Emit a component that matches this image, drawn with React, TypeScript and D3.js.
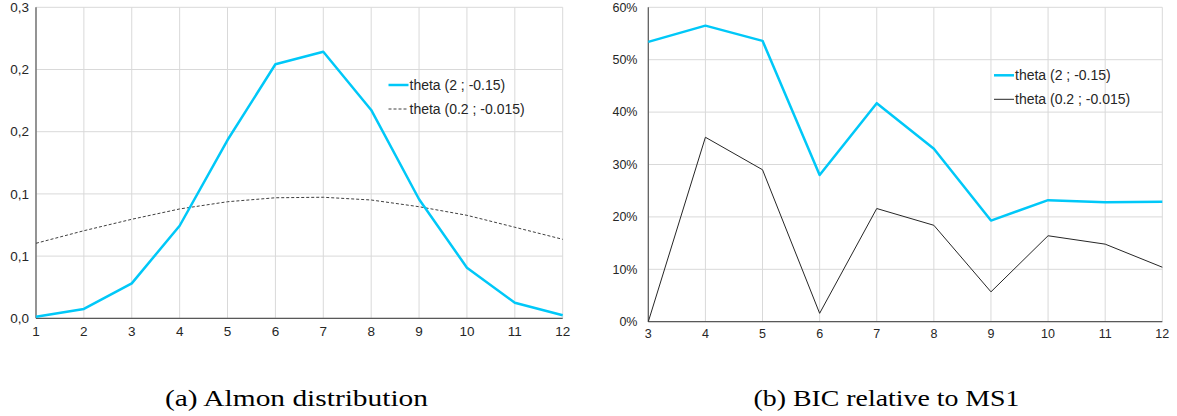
import React from "react";
import * as d3 from "d3";

// ---- Data ----
const lagsA = [1, 2, 3, 4, 5, 6, 7, 8, 9, 10, 11, 12];
const almonSteep = [0.0013, 0.0075, 0.0281, 0.0744, 0.1433, 0.2042, 0.2143, 0.1675, 0.0957, 0.0407, 0.0125, 0.0024];
const almonFlat = [0.0603, 0.0704, 0.0796, 0.0879, 0.0937, 0.0969, 0.0973, 0.0951, 0.0897, 0.0828, 0.0732, 0.0635];
const yTicksA = [0, 0.05, 0.1, 0.15, 0.2, 0.25];
const yTickLabelsA = ["0,0", "0,1", "0,1", "0,2", "0,2", "0,3"];

const lagsB = [3, 4, 5, 6, 7, 8, 9, 10, 11, 12];
const bicSteep = [0.534, 0.565, 0.536, 0.28, 0.417, 0.33, 0.193, 0.232, 0.228, 0.229];
const bicFlat = [0.0, 0.352, 0.29, 0.016, 0.216, 0.184, 0.057, 0.164, 0.148, 0.104];
const yTicksB = [0, 0.1, 0.2, 0.3, 0.4, 0.5, 0.6];
const yTickLabelsB = ["0%", "10%", "20%", "30%", "40%", "50%", "60%"];

const seriesNames = ["theta (2 ; -0.15)", "theta (0.2 ; -0.015)"];
const captions = ["(a) Almon distribution", "(b) BIC relative to MS1"];

const BLUE = "#00C8F8";
const GRID = "#d9d9d9";
const AXIS = "#595959";
const TXT = "#262626";
const FONT = "Liberation Sans, Arial, sans-serif";
const SERIF = "Liberation Serif, Times New Roman, serif";

type PanelProps = {
  xs: number[];
  s1: number[];
  s2: number[];
  yTicks: number[];
  yLabels: string[];
  xRange: [number, number];
  yRange: [number, number];
  yMax: number;
  yLabelX: number;
  dashed: boolean;
  legendX: number;
  legendY: number;
  tickFont: number;
  xLabelOffset: number;
};

function Panel(p: PanelProps) {
  const x = d3.scaleLinear().domain([p.xs[0], p.xs[p.xs.length - 1]]).range(p.xRange);
  const y = d3.scaleLinear().domain([0, p.yMax]).range(p.yRange);
  const line = d3
    .line<number>()
    .x((_, i) => x(p.xs[i]))
    .y((d) => y(d));
  const [x0, x1] = p.xRange;
  const [y0, y1] = p.yRange;
  return (
    <g>
      {p.yTicks.map((t, i) => (
        <line key={"hg" + i} x1={x0} x2={x1} y1={y(t)} y2={y(t)} stroke={GRID} strokeWidth={1} />
      ))}
      {p.xs.map((t, i) => (
        <line key={"vg" + i} x1={x(t)} x2={x(t)} y1={y0} y2={y1} stroke={GRID} strokeWidth={1} />
      ))}
      <line x1={x0} x2={x0} y1={y0} y2={y1} stroke={AXIS} strokeWidth={1.2} />
      <line x1={x0} x2={x1} y1={y0} y2={y0} stroke={AXIS} strokeWidth={1.2} />
      {p.yTicks.map((t, i) => (
        <text
          key={"yl" + i}
          x={p.yLabelX}
          y={y(t)}
          dy="0.35em"
          textAnchor="end"
          fontSize={p.tickFont}
          fontFamily={FONT}
          fill={TXT}
        >
          {p.yLabels[i]}
        </text>
      ))}
      {p.xs.map((t, i) => (
        <text
          key={"xl" + i}
          x={x(t)}
          y={y0 + p.xLabelOffset}
          dy="0.35em"
          textAnchor="middle"
          fontSize={p.tickFont}
          fontFamily={FONT}
          fill={TXT}
        >
          {t}
        </text>
      ))}
      <path
        d={line(p.s2) || ""}
        fill="none"
        stroke={p.dashed ? "#404040" : "#262626"}
        strokeWidth={1}
        strokeDasharray={p.dashed ? "3,2" : undefined}
      />
      <path d={line(p.s1) || ""} fill="none" stroke={BLUE} strokeWidth={2.5} strokeLinejoin="round" />
      {/* legend */}
      <line x1={p.legendX} x2={p.legendX + 20} y1={p.legendY} y2={p.legendY} stroke={BLUE} strokeWidth={2.5} />
      <text x={p.legendX + 21} y={p.legendY} dy="0.35em" fontSize={14} fontFamily={FONT} fill={TXT}>
        {seriesNames[0]}
      </text>
      <line
        x1={p.legendX}
        x2={p.legendX + 20}
        y1={p.legendY + 24}
        y2={p.legendY + 24}
        stroke={p.dashed ? "#404040" : "#262626"}
        strokeWidth={1}
        strokeDasharray={p.dashed ? "3,2" : undefined}
      />
      <text x={p.legendX + 21} y={p.legendY + 24} dy="0.35em" fontSize={14} fontFamily={FONT} fill={TXT}>
        {seriesNames[1]}
      </text>
    </g>
  );
}

export default function App() {
  return (
    <svg
      width={1177}
      height={416}
      style={{ position: "absolute", left: 0, top: 0, background: "#fff" }}
    >
      <rect width={1177} height={416} fill="#fff" />
      <Panel
        xs={lagsA}
        s1={almonSteep}
        s2={almonFlat}
        yTicks={yTicksA}
        yLabels={yTickLabelsA}
        xRange={[36, 562.7]}
        yRange={[318.3, 7.3]}
        yMax={0.25}
        yLabelX={29}
        dashed={true}
        legendX={388.5}
        legendY={85}
        tickFont={13.5}
        xLabelOffset={13}
      />
      <Panel
        xs={lagsB}
        s1={bicSteep}
        s2={bicFlat}
        yTicks={yTicksB}
        yLabels={yTickLabelsB}
        xRange={[648.3, 1162.3]}
        yRange={[321.7, 7.3]}
        yMax={0.6}
        yLabelX={637.5}
        dashed={false}
        legendX={994}
        legendY={75.3}
        tickFont={12.5}
        xLabelOffset={12}
      />
      <text x={165} y={406} fontSize={24} fontFamily={SERIF} textLength={263} lengthAdjust="spacingAndGlyphs" fill="#000">
        {captions[0]}
      </text>
      <text x={753.5} y={406} fontSize={24} fontFamily={SERIF} textLength={266} lengthAdjust="spacingAndGlyphs" fill="#000">
        {captions[1]}
      </text>
    </svg>
  );
}
